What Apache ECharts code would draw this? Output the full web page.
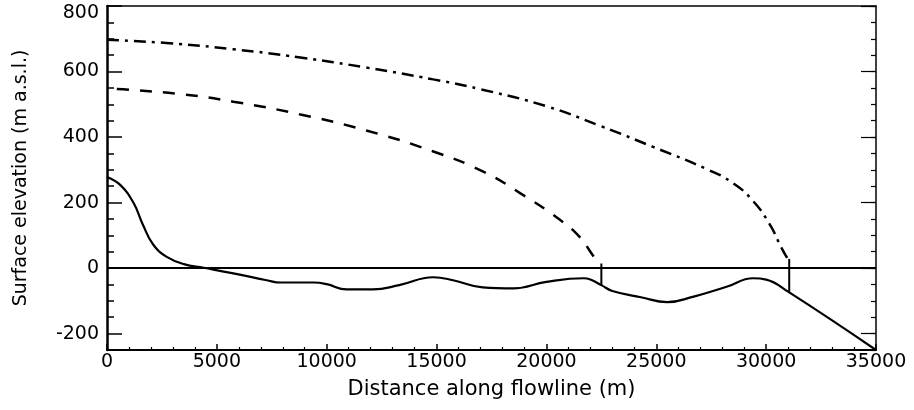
<!DOCTYPE html>
<html>
<head>
<meta charset="utf-8">
<script src="https://cdn.jsdelivr.net/npm/echarts@6/dist/echarts.min.js"></script>
<style>
html,body{margin:0;padding:0;background:#fff;}
#c{width:914px;height:410px;}
</style>
</head>
<body>
<div id="c"></div>
<script>
// ---- data ----
const bedX = [0, 600, 1200, 1650, 2100, 2700, 3500, 4400, 5750, 7270, 7900, 9400, 10000, 10900, 12100, 13300, 14850, 15750, 17100, 18500, 20000, 21700, 22000, 22500, 23000, 24300, 25500, 26700, 28200, 29400, 30000, 31000, 35000];
const bedY = [278, 254, 200, 130, 72, 35, 12, 1, -16, -37, -44, -44, -49, -65, -65, -52, -28, -37, -59, -62, -42, -31, -35, -52, -70, -89, -104, -87, -57, -31, -35, -72, -250];

const surfAX = [0, 1050, 3500, 5750, 8800, 11800, 14850, 17100, 18800, 20600, 21500, 22000, 22300];
const surfAY = [548, 544, 530, 508, 469, 420, 356, 295, 229, 148, 96, 50, 20];

const surfBX = [0, 2700, 5750, 8800, 11800, 14850, 17000, 20000, 22450, 24850, 27300, 28500, 29400, 30150, 30700, 30950, 31050];
const surfBY = [697, 687, 668, 643, 612, 576, 546, 494, 434, 370, 302, 259, 205, 135, 62, 32, 24];

const frontAX = [22500, 22500];
const frontAY = [14, -52];
const frontBX = [31050, 31050];
const frontBY = [28, -72];

const seaX = [0, 35000];
const seaY = [0, 0];

const yMajorTicks = [-200, 0, 200, 400, 600, 800];
const xTitle = 'Distance along flowline (m)';
const yTitle = 'Surface elevation (m a.s.l.)';

function pairs(xs, ys) { return xs.map((x, i) => [x, ys[i]]); }

const FONT = 'DejaVu Sans';
const chart = echarts.init(document.getElementById('c'), null, {renderer: 'canvas'});

const yBase = {type: 'value', min: -250, max: 800, splitLine: {show: false}};

chart.setOption({
  backgroundColor: '#fff',
  animation: false,
  grid: {left: 107, right: 38, top: 6, bottom: 60, containLabel: false, outerBoundsMode: 'none'},
  xAxis: [
    {
      type: 'value', position: 'bottom', min: 0, max: 35000, interval: 5000,
      axisLine: {show: true, onZero: false, lineStyle: {color: '#000', width: 2}},
      axisTick: {show: true, inside: true, length: 6, lineStyle: {color: '#000', width: 1.5}},
      minorTick: {show: true, splitNumber: 5, length: 3, lineStyle: {color: '#000', width: 1.2}},
      splitLine: {show: false},
      axisLabel: {color: '#000', fontFamily: FONT, fontSize: 19, margin: 3,
                  formatter: function (v) { return String(v); }},
      name: xTitle, nameLocation: 'middle', nameGap: 29,
      nameTextStyle: {color: '#000', fontFamily: FONT, fontSize: 21}
    },
    {
      type: 'value', position: 'top', min: 0, max: 35000, interval: 5000,
      axisLine: {show: true, onZero: false, lineStyle: {color: '#000', width: 1.5}},
      axisTick: {show: false}, axisLabel: {show: false}, splitLine: {show: false}
    }
  ],
  yAxis: [
    Object.assign({}, yBase, {
      position: 'left', interval: 50,
      axisLine: {show: true, onZero: false, lineStyle: {color: '#000', width: 2.5}},
      axisTick: {show: true, inside: true, length: 7, lineStyle: {color: '#000', width: 1.5}},
      axisLabel: {show: false},
      name: yTitle, nameLocation: 'middle', nameGap: 76,
      nameTextStyle: {color: '#000', fontFamily: FONT, fontSize: 19}
    }),
    Object.assign({}, yBase, {
      position: 'left', interval: 50,
      axisLine: {show: false, onZero: false},
      axisTick: {show: true, inside: true, length: 15, customValues: yMajorTicks, lineStyle: {color: '#000', width: 1.5}},
      axisLabel: {
        show: true, customValues: yMajorTicks, color: '#000', fontFamily: FONT, fontSize: 19, margin: 8,
        formatter: function (v) { return v === 800 ? '{t|' + v + '}' : String(v); },
        rich: {t: {padding: [15, 0, 0, 0], fontFamily: FONT, fontSize: 19, color: '#000'}}
      }
    }),
    Object.assign({}, yBase, {
      position: 'right', interval: 50,
      axisLine: {show: true, onZero: false, lineStyle: {color: '#000', width: 1.5}},
      axisTick: {show: true, inside: true, length: 5, lineStyle: {color: '#000', width: 1.2}},
      axisLabel: {show: false}
    }),
    Object.assign({}, yBase, {
      position: 'right', interval: 50,
      axisLine: {show: false, onZero: false},
      axisTick: {show: true, inside: true, length: 15, customValues: yMajorTicks, lineStyle: {color: '#000', width: 1.2}},
      axisLabel: {show: false}
    })
  ],
  series: [
    {type: 'line', name: 'sea level', data: pairs(seaX, seaY), symbol: 'none', z: 1,
     lineStyle: {color: '#000', width: 2}},
    {type: 'line', name: 'bed', data: pairs(bedX, bedY), symbol: 'none', smooth: 0.45, z: 3,
     lineStyle: {color: '#000', width: 2.2}},
    {type: 'line', name: 'surface A', data: pairs(surfAX, surfAY), symbol: 'none', smooth: 0.5, z: 3,
     lineStyle: {color: '#000', width: 2.5, type: [12, 11], dashOffset: -10}},
    {type: 'line', name: 'surface B', data: pairs(surfBX, surfBY), symbol: 'none', smooth: 0.5, z: 3,
     lineStyle: {color: '#000', width: 2.5, type: [12, 6, 3, 6]}},
    {type: 'line', name: 'front A', data: pairs(frontAX, frontAY), symbol: 'none', z: 3,
     lineStyle: {color: '#000', width: 2}},
    {type: 'line', name: 'front B', data: pairs(frontBX, frontBY), symbol: 'none', z: 3,
     lineStyle: {color: '#000', width: 2}}
  ]
});
</script>
</body>
</html>
